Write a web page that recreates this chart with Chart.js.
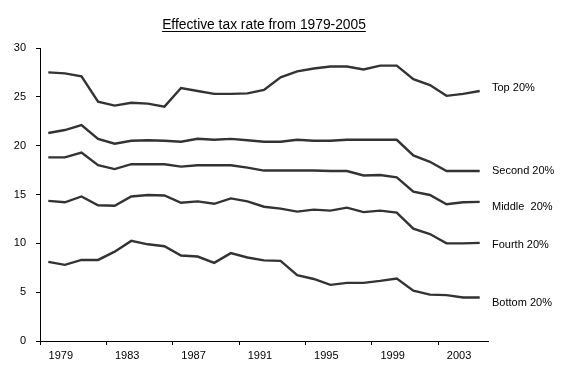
<!DOCTYPE html>
<html>
<head>
<meta charset="utf-8">
<script src="https://cdn.jsdelivr.net/npm/chart.js@4/dist/chart.umd.min.js"></script>
<style>
  html, body { margin: 0; padding: 0; background: #fff; }
  #wrap { width: 567px; height: 373px; position: relative; }
</style>
</head>
<body>
<div id="wrap"><canvas id="c" width="567" height="373"></canvas></div>
<script>
const title = 'Effective tax rate from 1979-2005';
const years = ['1979','1980','1981','1982','1983','1984','1985','1986','1987','1988','1989','1990','1991','1992','1993','1994','1995','1996','1997','1998','1999','2000','2001','2002','2003','2004','2005'];
const seriesNames = ['Top 20%', 'Second 20%', 'Middle  20%', 'Fourth 20%', 'Bottom 20%'];
const topValues    = [27.5,27.4,27.1,24.5,24.1,24.4,24.3,24.0,25.9,25.6,25.3,25.3,25.35,25.7,27.0,27.6,27.9,28.1,28.1,27.8,28.2,28.2,26.8,26.2,25.1,25.3,25.6];
const secondValues = [21.3,21.6,22.1,20.7,20.2,20.5,20.55,20.5,20.4,20.7,20.6,20.7,20.55,20.4,20.4,20.6,20.5,20.5,20.6,20.6,20.6,20.6,19.0,18.35,17.4,17.4,17.4];
const middleValues = [18.8,18.8,19.3,18.0,17.6,18.1,18.1,18.1,17.85,18.0,18.0,18.0,17.75,17.45,17.45,17.45,17.45,17.4,17.4,16.95,17.0,16.75,15.3,14.95,14.0,14.2,14.25];
const fourthValues = [14.35,14.2,14.8,13.9,13.85,14.8,14.95,14.9,14.15,14.3,14.05,14.6,14.3,13.75,13.55,13.25,13.45,13.35,13.65,13.2,13.35,13.15,11.5,10.95,10.0,10.0,10.05];
const bottomValues = [8.1,7.8,8.3,8.3,9.15,10.25,9.9,9.7,8.75,8.65,8.0,9.0,8.55,8.25,8.2,6.75,6.35,5.75,5.95,5.95,6.15,6.4,5.15,4.75,4.7,4.45,4.45];
const yTicks = [0, 5, 10, 15, 20, 25, 30];

const lineColor = '#333333';
const FONT = 'Liberation Sans, Arial, sans-serif';

const allSeries = [topValues, secondValues, middleValues, fourthValues, bottomValues];
const datasets = allSeries.map((vals, i) => ({
  label: seriesNames[i],
  data: vals,
  borderColor: lineColor,
  backgroundColor: lineColor,
  borderWidth: 2.4,
  pointRadius: 0,
  tension: 0,
  fill: false
}));

// pixel offsets of the right-hand series labels relative to each line's last point
const labelShift = [-3, 0, 5, 2, 5];

const decorations = {
  id: 'decorations',
  beforeDraw(chart) {
    const ctx = chart.ctx;
    ctx.save();
    ctx.fillStyle = '#fff';
    ctx.fillRect(0, 0, chart.width, chart.height);
    ctx.restore();
  },
  afterDraw(chart) {
    const ctx = chart.ctx;
    const y = chart.scales.y;
    const area = chart.chartArea;
    ctx.save();
    // title
    ctx.font = '13.8px ' + FONT;
    ctx.fillStyle = '#000';
    ctx.textAlign = 'center';
    ctx.textBaseline = 'alphabetic';
    const tx = 264, ty = 29;
    ctx.fillText(title, tx, ty);
    const w = ctx.measureText(title).width;
    ctx.strokeStyle = '#000';
    ctx.lineWidth = 1;
    ctx.beginPath();
    ctx.moveTo(tx - w / 2, ty + 2.5);
    ctx.lineTo(tx + w / 2, ty + 2.5);
    ctx.stroke();
    // series labels
    ctx.font = '11px ' + FONT;
    ctx.textAlign = 'left';
    ctx.textBaseline = 'middle';
    allSeries.forEach((vals, i) => {
      const py = y.getPixelForValue(vals[vals.length - 1]) + labelShift[i];
      ctx.fillText(seriesNames[i], area.right + 4, py);
    });
    ctx.restore();
  }
};

new Chart(document.getElementById('c'), {
  type: 'line',
  data: { labels: years, datasets },
  options: {
    responsive: false,
    animation: false,
    layout: { padding: { top: 48, right: 79, bottom: 0, left: 0 } },
    plugins: { legend: { display: false }, title: { display: false }, tooltip: { enabled: false } },
    scales: {
      x: {
        type: 'category',
        offset: true,
        afterFit(scale) { scale.height = 32; },
        border: { display: true, color: '#000', width: 1 },
        grid: {
          offset: true,
          drawOnChartArea: false,
          drawTicks: true,
          tickLength: 4,
          color: (c) => (c.index % 4 === 0 && c.index < years.length) ? '#000' : 'rgba(0,0,0,0)'
        },
        ticks: {
          autoSkip: false,
          maxRotation: 0,
          minRotation: 0,
          labelOffset: 12.5,
          padding: 4,
          color: '#000',
          font: { family: FONT, size: 11 },
          callback: (v, i) => (i % 4 === 0 ? years[i] : '')
        }
      },
      y: {
        min: 0,
        max: 30,
        afterFit(scale) { scale.width = 40; },
        afterBuildTicks(scale) { scale.ticks = yTicks.map(v => ({ value: v })); },
        border: { display: true, color: '#000', width: 1 },
        grid: { drawOnChartArea: false, drawTicks: true, tickLength: 4, color: '#000' },
        ticks: {
          padding: 10,
          color: '#000',
          font: { family: FONT, size: 11 }
        }
      }
    }
  },
  plugins: [decorations]
});
</script>
</body>
</html>
